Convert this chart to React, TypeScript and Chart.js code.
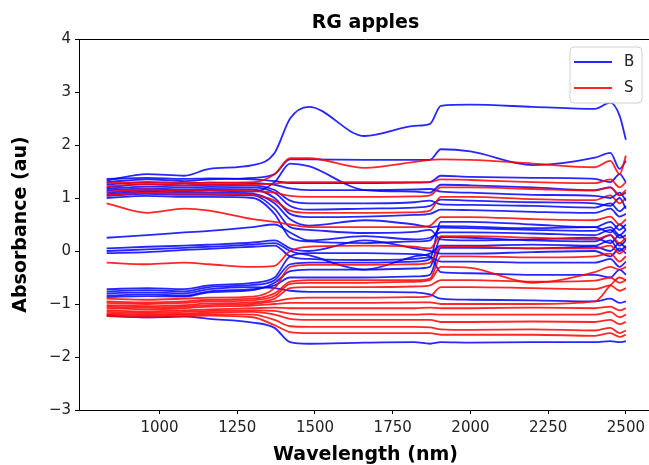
import React, { useEffect, useRef } from 'react';
import { Chart, registerables } from 'chart.js';
Chart.register(...registerables);

const WAVELENGTHS = [830, 960, 1080, 1160, 1300, 1370, 1420, 1480, 1660, 1820, 1870, 1905, 2000, 2200, 2400, 2450, 2480, 2500];
const X_TICKS = [1000, 1250, 1500, 1750, 2000, 2250, 2500];
const Y_TICKS = [-3, -2, -1, 0, 1, 2, 3, 4];

// Class B spectra
const B01 = [1.33, 1.45, 1.42, 1.55, 1.62, 1.85, 2.5, 2.72, 2.17, 2.36, 2.4, 2.74, 2.76, 2.72, 2.68, 2.8, 2.55, 2.1];
const B02 = [1.3, 1.35, 1.32, 1.35, 1.38, 1.45, 1.73, 1.73, 1.72, 1.72, 1.72, 1.92, 1.88, 1.62, 1.76, 1.85, 1.55, 1.7];
const B03 = [1.36, 1.38, 1.36, 1.37, 1.35, 1.32, 1.28, 1.28, 1.28, 1.29, 1.3, 1.42, 1.4, 1.38, 1.36, 1.3, 1.45, 1.3];
const B04 = [1.25, 1.3, 1.28, 1.29, 1.28, 1.25, 1.18, 1.15, 1.15, 1.16, 1.17, 1.12, 1.1, 1.06, 1.04, 1.0, 1.1, 0.95];
const B05 = [1.2, 1.26, 1.24, 1.25, 1.24, 1.15, 0.95, 0.9, 0.9, 0.92, 0.95, 0.88, 0.87, 0.85, 0.82, 0.9, 0.75, 0.85];
const B06 = [1.17, 1.22, 1.2, 1.21, 1.2, 1.1, 0.85, 0.78, 0.8, 0.82, 0.85, 0.97, 0.95, 0.92, 0.9, 0.85, 1.0, 0.8];
const B07 = [1.14, 1.18, 1.16, 1.17, 1.16, 1.0, 0.7, 0.64, 0.65, 0.68, 0.7, 0.78, 0.77, 0.74, 0.72, 0.8, 0.65, 0.7];
const B08 = [1.07, 1.12, 1.1, 1.1, 1.08, 0.9, 0.6, 0.48, 0.58, 0.5, 0.45, 0.47, 0.46, 0.43, 0.45, 0.35, 0.5, 0.4];
const B09 = [1.04, 1.08, 1.06, 1.06, 1.05, 0.8, 0.45, 0.4, 0.34, 0.36, 0.4, 0.22, 0.2, 0.22, 0.25, 0.15, 0.3, 0.2];
const B10 = [0.25, 0.3, 0.35, 0.38, 0.45, 0.5, 0.35, 0.2, 0.28, 0.22, 0.25, 0.35, 0.35, 0.33, 0.3, 0.4, 0.25, 0.3];
const B11 = [0.05, 0.08, 0.1, 0.12, 0.16, 0.2, 0.05, 0.0, 0.2, 0.05, 0.0, -0.05, -0.05, -0.02, 0.0, -0.1, 0.05, -0.05];
const B12 = [0.0, 0.03, 0.06, 0.08, 0.12, 0.15, 0.0, -0.08, -0.35, -0.1, -0.05, 0.1, 0.1, 0.12, 0.1, 0.2, 0.0, 0.1];
const B13 = [-0.04, -0.02, 0.02, 0.04, 0.08, 0.1, -0.1, -0.15, -0.17, -0.15, -0.12, -0.2, -0.2, -0.22, -0.22, -0.15, -0.3, -0.2];
const B14 = [-0.72, -0.7, -0.72, -0.65, -0.6, -0.5, -0.1, -0.04, -0.04, -0.06, -0.1, -0.4, -0.42, -0.45, -0.45, -0.5, -0.35, -0.45];
const B15 = [-0.76, -0.74, -0.76, -0.68, -0.64, -0.55, -0.25, -0.22, -0.22, -0.2, -0.15, 0.55, 0.55, 0.5, 0.45, 0.55, 0.4, 0.5];
const B16 = [-0.8, -0.78, -0.8, -0.72, -0.68, -0.7, -0.75, -0.77, -0.77, -0.78, -0.82, -0.9, -0.92, -0.93, -0.95, -0.9, -0.98, -0.95];
const B17 = [-0.84, -0.82, -0.84, -0.76, -0.72, -0.65, -0.5, -0.5, -0.5, -0.48, -0.45, 0.06, 0.06, 0.05, 0.08, 0.0, 0.15, 0.05];
const B18 = [-0.87, -0.85, -0.86, -0.78, -0.74, -0.6, -0.38, -0.35, -0.35, -0.33, -0.3, 0.26, 0.25, 0.2, 0.18, 0.3, 0.1, 0.2];
const B19 = [-1.22, -1.25, -1.24, -1.28, -1.35, -1.45, -1.72, -1.75, -1.73, -1.72, -1.75, -1.72, -1.73, -1.72, -1.72, -1.7, -1.72, -1.7];
const B20 = [1.1, 1.15, 1.13, 1.14, 1.12, 1.3, 1.65, 1.6, 1.15, 1.12, 1.1, 1.25, 1.24, 1.2, 1.15, 1.2, 1.05, 1.1];
const B21 = [1.0, 1.04, 1.02, 1.02, 1.0, 0.7, 0.25, 0.18, 0.15, 0.18, 0.2, 0.44, 0.43, 0.4, 0.38, 0.45, 0.3, 0.4];

// Class S spectra
const S01 = [1.28, 1.3, 1.28, 1.29, 1.3, 1.45, 1.75, 1.75, 1.57, 1.68, 1.72, 1.73, 1.72, 1.65, 1.58, 1.7, 1.45, 1.8];
const S02 = [1.22, 1.26, 1.24, 1.25, 1.25, 1.27, 1.3, 1.3, 1.3, 1.3, 1.3, 1.35, 1.34, 1.3, 1.28, 1.35, 1.2, 1.3];
const S03 = [1.12, 1.16, 1.14, 1.15, 1.13, 1.1, 1.04, 1.02, 1.02, 1.03, 1.05, 1.2, 1.2, 1.17, 1.14, 1.2, 1.05, 1.15];
const S04 = [1.05, 1.1, 1.08, 1.08, 1.06, 0.95, 0.76, 0.72, 0.72, 0.73, 0.76, 1.02, 1.02, 0.98, 0.96, 1.05, 0.9, 1.0];
const S05 = [0.9, 0.72, 0.8, 0.76, 0.6, 0.55, 0.5, 0.45, 0.45, 0.45, 0.48, 0.64, 0.64, 0.6, 0.58, 0.65, 0.5, 0.6];
const S06 = [-0.22, -0.25, -0.22, -0.25, -0.3, -0.28, 0.0, 0.08, 0.1, 0.08, 0.05, 0.28, 0.28, 0.25, 0.22, 0.3, 0.15, 0.25];
const S07 = [-0.9, -0.92, -0.9, -0.88, -0.86, -0.7, -0.3, -0.26, -0.26, -0.25, -0.22, 0.08, 0.08, 0.05, 0.05, 0.1, -0.05, 0.05];
const S08 = [-0.95, -0.97, -0.95, -0.92, -0.9, -0.8, -0.58, -0.55, -0.55, -0.55, -0.52, -0.1, -0.1, -0.12, -0.1, -0.05, -0.2, -0.1];
const S09 = [-0.98, -1.0, -0.98, -0.95, -0.93, -0.85, -0.62, -0.6, -0.6, -0.58, -0.55, -0.3, -0.32, -0.6, -0.4, -0.3, -0.35, -0.3];
const S10 = [-1.02, -1.04, -1.02, -0.99, -0.97, -0.9, -0.7, -0.68, -0.68, -0.67, -0.65, -0.55, -0.55, -0.58, -0.56, -0.5, -0.6, -0.55];
const S11 = [-1.05, -1.07, -1.05, -1.02, -1.0, -0.95, -0.9, -0.88, -0.88, -0.87, -0.85, -0.68, -0.68, -0.7, -0.72, -0.65, -0.75, -0.7];
const S12 = [-1.08, -1.1, -1.08, -1.05, -1.03, -1.0, -0.98, -0.98, -0.98, -0.97, -0.97, -1.0, -1.0, -1.0, -0.95, -0.65, -0.5, -0.55];
const S13 = [-1.12, -1.14, -1.12, -1.1, -1.08, -1.07, -1.08, -1.08, -1.08, -1.08, -1.07, -1.08, -1.08, -1.07, -1.08, -1.05, -1.12, -1.08];
const S14 = [-1.15, -1.17, -1.15, -1.13, -1.12, -1.13, -1.18, -1.2, -1.2, -1.2, -1.19, -1.2, -1.2, -1.2, -1.2, -1.15, -1.25, -1.2];
const S15 = [-1.18, -1.2, -1.18, -1.16, -1.15, -1.2, -1.28, -1.3, -1.3, -1.3, -1.3, -1.34, -1.34, -1.33, -1.34, -1.3, -1.38, -1.34];
const S16 = [-1.2, -1.22, -1.2, -1.19, -1.2, -1.3, -1.42, -1.43, -1.43, -1.43, -1.44, -1.48, -1.49, -1.48, -1.5, -1.45, -1.55, -1.5];
const S17 = [-1.23, -1.25, -1.23, -1.22, -1.25, -1.4, -1.53, -1.55, -1.55, -1.55, -1.55, -1.58, -1.58, -1.58, -1.6, -1.55, -1.62, -1.58];

const B_SERIES = [B01, B02, B03, B04, B05, B06, B07, B08, B09, B10, B11, B12, B13, B14, B15, B16, B17, B18, B19, B20, B21];
const S_SERIES = [S01, S02, S03, S04, S05, S06, S07, S08, S09, S10, S11, S12, S13, S14, S15, S16, S17];

const BLUE = 'rgba(0,0,255,0.85)';
const RED = 'rgba(255,0,0,0.85)';
const FONT = "'DejaVu Sans', sans-serif";

const decorPlugin = {
  id: 'decor',
  afterDraw(chart: any) {
    const { ctx, chartArea } = chart;
    ctx.save();
    // top spine
    ctx.strokeStyle = '#000';
    ctx.lineWidth = 1;
    ctx.beginPath();
    ctx.moveTo(chartArea.left, chartArea.top + 0.5);
    ctx.lineTo(chartArea.right, chartArea.top + 0.5);
    ctx.stroke();
    // title
    ctx.fillStyle = '#000';
    ctx.font = `bold 19px ${FONT}`;
    ctx.textAlign = 'center';
    ctx.textBaseline = 'alphabetic';
    ctx.fillText('RG apples', (chartArea.left + chartArea.right) / 2, 28);
    // legend
    const lx = 570, ly = 47, lw = 72, lh = 56, r = 4;
    ctx.beginPath();
    ctx.moveTo(lx + r, ly);
    ctx.lineTo(lx + lw - r, ly);
    ctx.arcTo(lx + lw, ly, lx + lw, ly + r, r);
    ctx.lineTo(lx + lw, ly + lh - r);
    ctx.arcTo(lx + lw, ly + lh, lx + lw - r, ly + lh, r);
    ctx.lineTo(lx + r, ly + lh);
    ctx.arcTo(lx, ly + lh, lx, ly + lh - r, r);
    ctx.lineTo(lx, ly + r);
    ctx.arcTo(lx, ly, lx + r, ly, r);
    ctx.closePath();
    ctx.fillStyle = 'rgba(255,255,255,0.85)';
    ctx.fill();
    ctx.strokeStyle = '#d0d0d0';
    ctx.stroke();
    const entries = [
      { label: 'B', color: BLUE, y: 62 },
      { label: 'S', color: RED, y: 88 },
    ];
    ctx.lineWidth = 2;
    ctx.font = `15px ${FONT}`;
    ctx.textAlign = 'left';
    ctx.textBaseline = 'middle';
    for (const e of entries) {
      ctx.strokeStyle = e.color;
      ctx.beginPath();
      ctx.moveTo(574, e.y);
      ctx.lineTo(612, e.y);
      ctx.stroke();
      ctx.fillStyle = '#222';
      ctx.fillText(e.label, 624, e.y);
    }
    ctx.restore();
  },
};

export default function App() {
  const ref = useRef<HTMLCanvasElement | null>(null);
  useEffect(() => {
    if (!ref.current) return;
    const datasets: any[] = [];
    const n = Math.max(B_SERIES.length, S_SERIES.length);
    for (let i = 0; i < n; i++) {
      const pairs: [number[] | undefined, string, string][] = [
        [B_SERIES[i], BLUE, 'B'],
        [S_SERIES[i], RED, 'S'],
      ];
      for (const [arr, color, label] of pairs) {
        if (!arr) continue;
        datasets.push({
          label,
          data: WAVELENGTHS.map((x, k) => ({ x, y: arr[k] })),
          borderColor: color,
          backgroundColor: color,
          borderWidth: 1.8,
          pointRadius: 0,
          fill: false,
          cubicInterpolationMode: 'monotone',
        });
      }
    }
    const chart = new Chart(ref.current, {
      type: 'line',
      data: { datasets },
      plugins: [decorPlugin],
      options: {
        animation: false,
        responsive: false,
        events: [],
        layout: { padding: { top: 39, right: 8, left: 0, bottom: 0 } },
        plugins: { legend: { display: false }, title: { display: false }, tooltip: { enabled: false } },
        scales: {
          x: {
            type: 'linear',
            min: 741,
            max: 2584,
            afterBuildTicks: (s: any) => { s.ticks = X_TICKS.map((v) => ({ value: v })); },
            afterFit: (s: any) => { s.height = 55; },
            grid: { display: true, drawOnChartArea: false, drawTicks: true, tickLength: 4, color: '#000' },
            border: { display: true, color: '#000', width: 1 },
            ticks: { color: '#222', font: { family: FONT, size: 15 }, padding: 5, maxRotation: 0, autoSkip: false, callback: (v: any) => String(v) },
            title: { display: true, text: 'Wavelength (nm)', color: '#000', font: { family: FONT, size: 19, weight: 'bold', lineHeight: 1 }, padding: { top: 0, bottom: 0 } },
          },
          y: {
            type: 'linear',
            min: -3,
            max: 4,
            afterBuildTicks: (s: any) => { s.ticks = Y_TICKS.map((v) => ({ value: v })); },
            afterFit: (s: any) => { s.width = 79; },
            grid: { display: true, drawOnChartArea: false, drawTicks: true, tickLength: 4, color: '#000' },
            border: { display: true, color: '#000', width: 1 },
            ticks: { color: '#222', font: { family: FONT, size: 15 }, padding: 4, callback: (v: any) => String(v).replace('-', '\u2212') },
            title: { display: true, text: 'Absorbance (au)', color: '#000', font: { family: FONT, size: 19, weight: 'bold', lineHeight: 1 }, padding: { top: 12, bottom: 0 } },
          },
        },
      } as any,
    });
    return () => chart.destroy();
  }, []);
  return (
    <div style={{ position: 'fixed', left: 0, top: 0, width: 649, height: 465, overflow: 'hidden', background: '#fff' }}>
      <canvas ref={ref} width={660} height={465} style={{ display: 'block', width: 660, height: 465 }} />
    </div>
  );
}
